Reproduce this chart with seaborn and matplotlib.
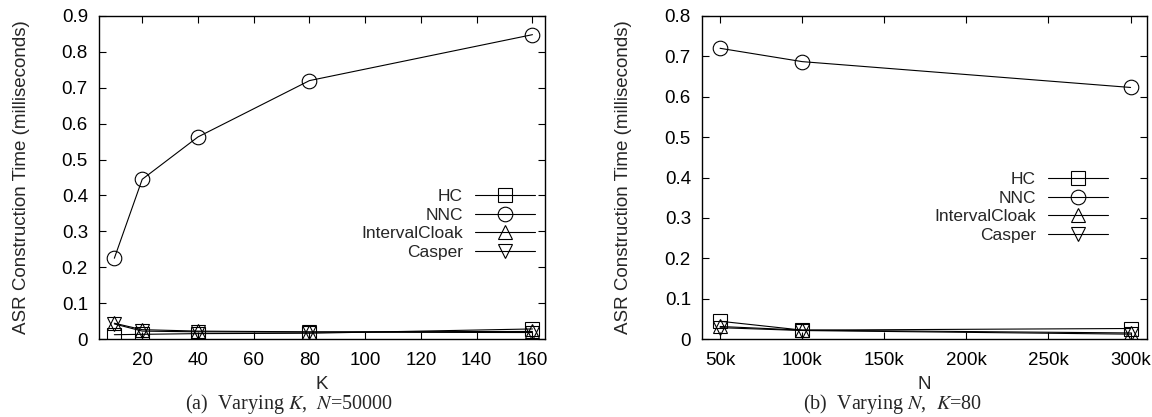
import matplotlib
matplotlib.use("Agg")
import matplotlib.pyplot as plt
from matplotlib.lines import Line2D
from matplotlib.ticker import FuncFormatter, FixedLocator
import numpy as np
import pandas as pd
import seaborn as sns

# ---- data -------------------------------------------------------------
methods = ["HC", "NNC", "IntervalCloak", "Casper"]

k_values = [10, 20, 40, 80, 160]
time_vs_k = {
    "HC":            [0.012, 0.013, 0.015, 0.016, 0.028],
    "NNC":           [0.225, 0.445, 0.563, 0.720, 0.848],
    "IntervalCloak": [0.044, 0.026, 0.022, 0.020, 0.021],
    "Casper":        [0.042, 0.022, 0.020, 0.019, 0.018],
}

n_values = [50000, 100000, 300000]
time_vs_n = {
    "HC":            [0.044, 0.022, 0.026],
    "NNC":           [0.720, 0.687, 0.623],
    "IntervalCloak": [0.031, 0.022, 0.015],
    "Casper":        [0.028, 0.021, 0.012],
}

k_ticks = [20, 40, 60, 80, 100, 120, 140, 160]
n_ticks = [50000, 100000, 150000, 200000, 250000, 300000]
n_tick_labels = ["50k", "100k", "150k", "200k", "250k", "300k"]

ylabel = "ASR Construction Time (milliseconds)"
caption_a = r"(a)  Varying $K$,  $N$=50000"
caption_b = r"(b)  Varying $N$,  $K$=80"

# ---- style ------------------------------------------------------------
sns.set_theme(style="ticks")
plt.rcParams["font.family"] = ["Liberation Sans", "DejaVu Sans"]
plt.rcParams["mathtext.fontset"] = "stix"
plt.rcParams["axes.linewidth"] = 1.0

markers = {"HC": "s", "NNC": "o", "IntervalCloak": "^", "Casper": "v"}
palette = {m: "black" for m in methods}
FS = 13.5       # tick and axis labels
FS_LEG = 12.5   # legend entries
FS_CAP = 14.5   # sub-figure captions
MS = 10.5

W, H = 1152, 417


def long_frame(xs, table, xname):
    rows = []
    for m in methods:
        for x, y in zip(xs, table[m]):
            rows.append({xname: x, "time": y, "method": m})
    return pd.DataFrame(rows)


fig = plt.figure(figsize=(W / 100, H / 100), dpi=100)
ax_a = fig.add_axes([99 / W, 1 - 339 / H, 446 / W, 323 / H])
ax_b = fig.add_axes([702 / W, 1 - 339 / H, 445 / W, 323 / H])

df_a = long_frame(k_values, time_vs_k, "K")
df_b = long_frame(n_values, time_vs_n, "N")

line_kws = dict(linewidth=0.8, markersize=MS, markerfacecolor="none",
                markeredgecolor="black", markeredgewidth=0.8)

for ax, df, x in [(ax_a, df_a, "K"), (ax_b, df_b, "N")]:
    sns.lineplot(data=df, x=x, y="time", hue="method", style="method",
                 hue_order=methods, style_order=methods,
                 markers=markers, dashes=False, palette=palette,
                 legend=False, ax=ax, **line_kws)

ax_a.set_xlim(4.5, 164.5)
ax_a.set_ylim(0, 0.9)
ax_a.xaxis.set_major_locator(FixedLocator(k_ticks))
ax_a.yaxis.set_major_locator(FixedLocator(np.round(np.arange(0, 0.91, 0.1), 1)))

ax_b.set_xlim(39000, 310000)
ax_b.set_ylim(0, 0.8)
ax_b.set_xticks(n_ticks)
ax_b.set_xticklabels(n_tick_labels)
ax_b.yaxis.set_major_locator(FixedLocator(np.round(np.arange(0, 0.81, 0.1), 1)))

fmt = FuncFormatter(lambda v, p: "%g" % round(v, 2))
for ax, xl, ylx in [(ax_a, "K", 22), (ax_b, "N", 623)]:
    ax.yaxis.set_major_formatter(fmt)
    ax.tick_params(direction="in", top=True, right=True, length=5,
                   width=0.8, labelsize=FS, colors="black")
    ax.tick_params(axis="x", pad=9.5)
    ax.tick_params(axis="y", pad=8)
    ax.set_xlabel(xl, fontsize=FS, labelpad=5)
    ax.set_ylabel(ylabel, fontsize=FS, va="center")
    ax.yaxis.set_label_coords(ylx / W, 1 - 177.5 / H, transform=fig.transFigure)
    for s in ax.spines.values():
        s.set_color("black")
        s.set_visible(True)

handles = [Line2D([], [], color="black", marker=markers[m], **line_kws)
           for m in methods]
leg_kws = dict(loc="upper right", markerfirst=False, frameon=False,
               fontsize=FS_LEG, handlelength=3.45, handletextpad=0.7,
               labelspacing=0.2, borderpad=0, borderaxespad=0,
               bbox_transform=fig.transFigure)
ax_a.legend(handles, methods, bbox_to_anchor=(535 / W, 1 - 189 / H), **leg_kws)
ax_b.legend(handles, methods, bbox_to_anchor=(1108 / W, 1 - 172 / H), **leg_kws)

fig.text(289 / W, 1 / H, caption_a, ha="center", va="bottom",
         fontsize=FS_CAP, family="Liberation Serif")
fig.text(893 / W, 1 / H, caption_b, ha="center", va="bottom",
         fontsize=FS_CAP, family="Liberation Serif")

fig.savefig("out.png", dpi=100)
